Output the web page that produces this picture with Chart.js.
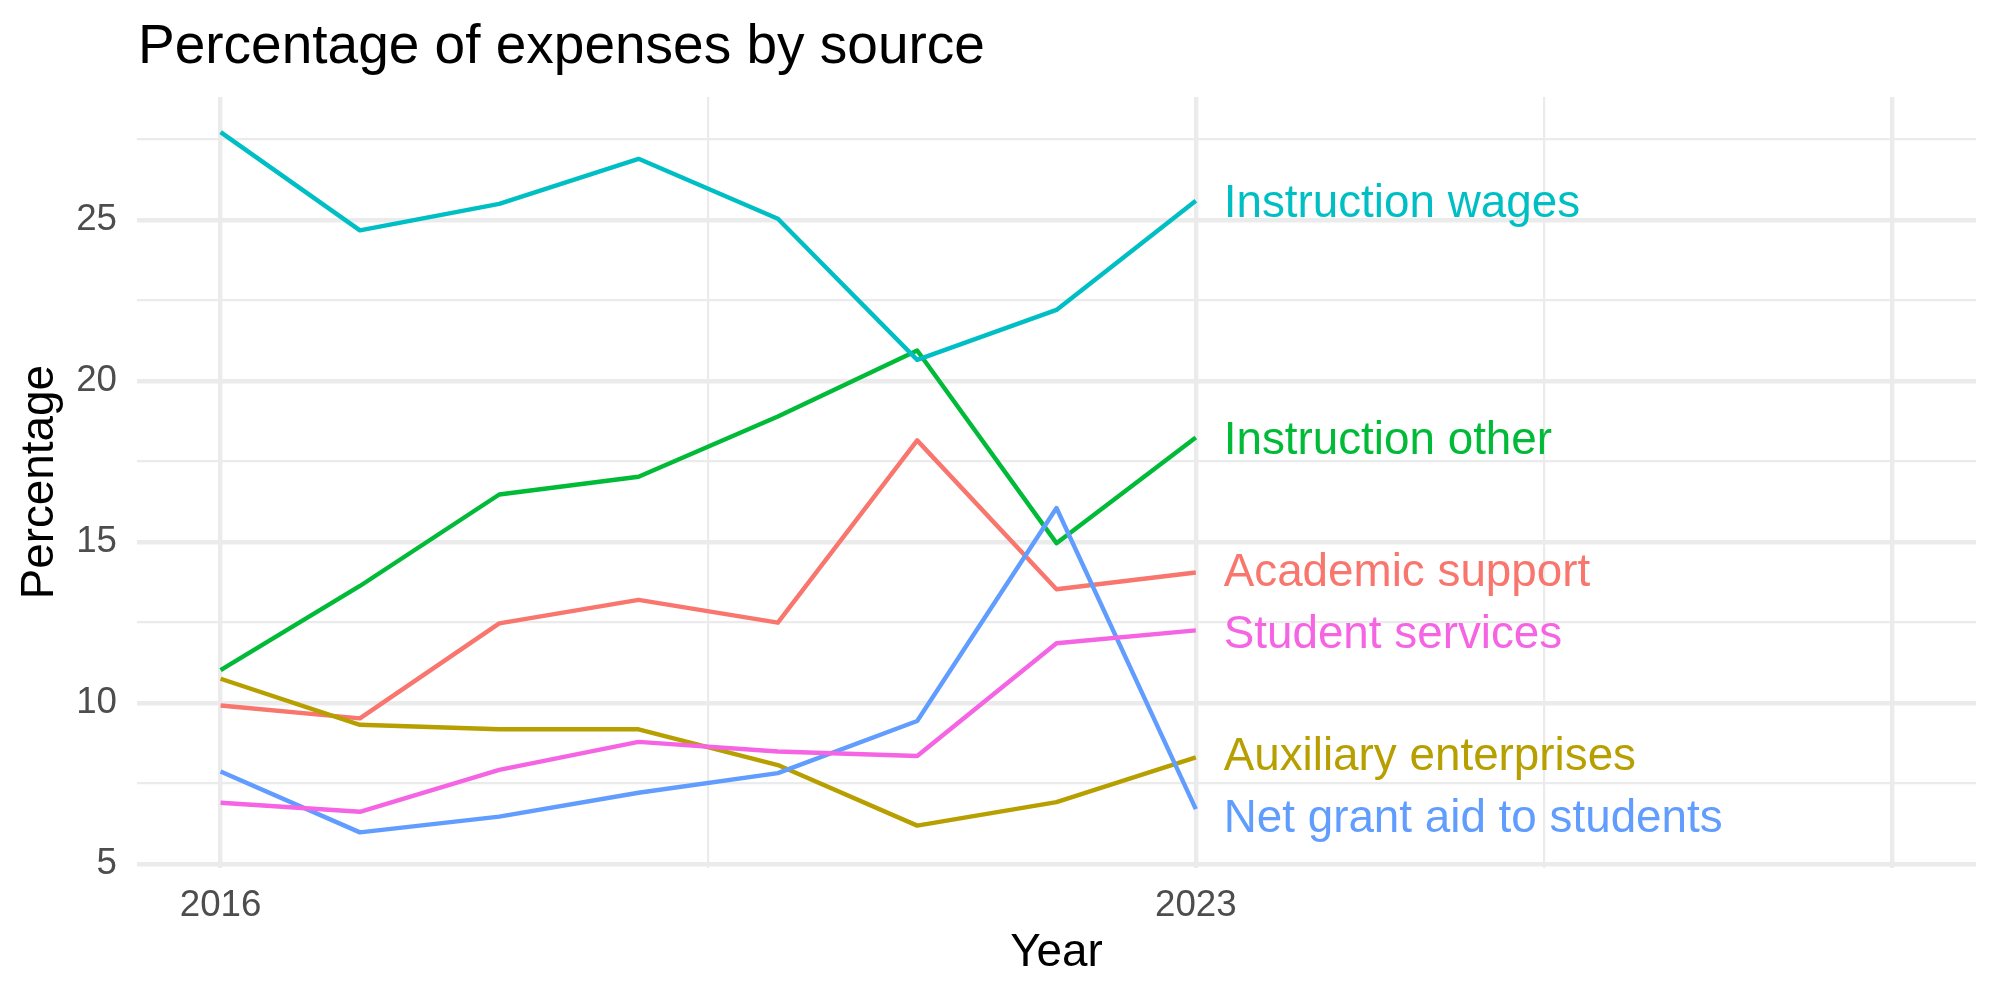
<!DOCTYPE html>
<html><head><meta charset="utf-8">
<script src="https://cdn.jsdelivr.net/npm/chart.js@4.4.0/dist/chart.umd.min.js"></script>
<style>html,body{margin:0;padding:0;background:#fff;} #wrap{width:2000px;height:1000px;}</style>
</head><body><div id="wrap"><canvas id="c" width="2000" height="1000"></canvas></div>
<script>
const years = [2016, 2017, 2018, 2019, 2020, 2021, 2022, 2023];
const academicSupport      = [9.92, 9.52, 12.47, 13.20, 12.49, 18.15, 13.53, 14.05];
const auxiliaryEnterprises = [10.75, 9.32, 9.18, 9.18, 8.07, 6.19, 6.92, 8.31];
const instructionOther     = [11.02, 13.63, 16.47, 17.02, 18.89, 20.94, 14.96, 18.24];
const instructionWages     = [27.72, 24.67, 25.49, 26.89, 25.03, 20.65, 22.20, 25.59];
const netGrantAid          = [7.87, 5.98, 6.47, 7.21, 7.82, 9.44, 16.05, 6.70];
const studentServices      = [6.90, 6.62, 7.92, 8.79, 8.49, 8.35, 11.85, 12.25];
const seriesNames  = ['Academic support', 'Auxiliary enterprises', 'Instruction other', 'Instruction wages', 'Net grant aid to students', 'Student services'];
const seriesValues = [academicSupport, auxiliaryEnterprises, instructionOther, instructionWages, netGrantAid, studentServices];
const seriesColors = ['#F8766D', '#B79F00', '#00BA38', '#00BFC4', '#619CFF', '#F564E3'];
const labelValues  = [14.14, 8.42, 18.21, 25.57, 6.50, 12.20];
const labelYear    = 2023.2;
const xTicks      = [2016, 2019.5, 2023, 2025.5, 2028];
const xTickLabels = ['2016', '', '2023', '', ''];
const xMajor      = [2016, 2023, 2028];
const yTicks      = [5, 7.5, 10, 12.5, 15, 17.5, 20, 22.5, 25, 27.5];
const yTickLabels = ['5', '', '10', '', '15', '', '20', '', '25', ''];

const FONT = '"Liberation Sans", Arial, sans-serif';
Chart.defaults.font.family = FONT;

const datasets = seriesNames.map((name, i) => ({
  label: name,
  data: years.map((y, j) => ({x: y, y: seriesValues[i][j]})),
  borderColor: seriesColors[i],
  backgroundColor: seriesColors[i],
  borderWidth: 4.4,
  pointRadius: 0,
  tension: 0,
  fill: false,
  borderJoinStyle: 'round',
  borderCapStyle: 'butt',
  order: seriesNames.length - 1 - i
}));

const extras = {
  id: 'extras',
  afterDatasetsDraw(chart) {
    const ctx = chart.ctx;
    const xs = chart.scales.x, ys = chart.scales.y;
    ctx.save();
    const size = 45.8;
    ctx.font = size + 'px ' + FONT;
    ctx.textAlign = 'left';
    ctx.textBaseline = 'alphabetic';
    const cap = ctx.measureText('I').actualBoundingBoxAscent;
    seriesNames.forEach((name, i) => {
      ctx.fillStyle = seriesColors[i];
      ctx.fillText(name, xs.getPixelForValue(labelYear), ys.getPixelForValue(labelValues[i]) + cap / 2);
    });
    ctx.fillStyle = '#000';
    ctx.font = '55px ' + FONT;
    ctx.fillText('Percentage of expenses by source', chart.chartArea.left + 1, 63);
    ctx.restore();
  }
};

new Chart(document.getElementById('c'), {
  type: 'line',
  data: { datasets },
  options: {
    responsive: false,
    animation: false,
    devicePixelRatio: 1,
    layout: { padding: { top: 97, right: 24, left: 0, bottom: 0 } },
    plugins: { legend: { display: false }, tooltip: { enabled: false }, title: { display: false } },
    scales: {
      x: {
        type: 'linear', min: 2015.4, max: 2028.6,
        afterBuildTicks: s => { s.ticks = xTicks.map(v => ({ value: v })); },
        afterFit: s => { s.height = 132.5; },
        ticks: {
          autoSkip: false, maxRotation: 0, minRotation: 0, padding: 16, color: '#4D4D4D',
          font: { size: 36.7 },
          callback: v => { const i = xTicks.indexOf(v); return i >= 0 ? xTickLabels[i] : ''; }
        },
        grid: {
          color: '#EBEBEB', drawTicks: false,
          lineWidth: c => (c.tick && xMajor.includes(c.tick.value)) ? 4.4 : 2.2
        },
        border: { display: false },
        title: { display: true, text: 'Year', color: '#000', font: { size: 45.8 }, padding: { top: 0, bottom: 19.5 } }
      },
      y: {
        type: 'linear', min: 4.89, max: 28.81,
        afterBuildTicks: s => { s.ticks = yTicks.map(v => ({ value: v })); },
        afterFit: s => { s.width = 137; },
        ticks: {
          autoSkip: false, padding: 20, color: '#4D4D4D',
          font: { size: 36.7 },
          callback: v => { const i = yTicks.indexOf(v); return i >= 0 ? yTickLabels[i] : ''; }
        },
        grid: {
          color: '#EBEBEB', drawTicks: false,
          lineWidth: c => (c.tick && c.tick.value % 5 === 0) ? 4.4 : 2.2
        },
        border: { display: false },
        title: { display: true, text: 'Percentage', color: '#000', font: { size: 45.8 }, padding: { top: 12.5, bottom: 0 } }
      }
    }
  },
  plugins: [extras]
});
</script>
</body></html>
